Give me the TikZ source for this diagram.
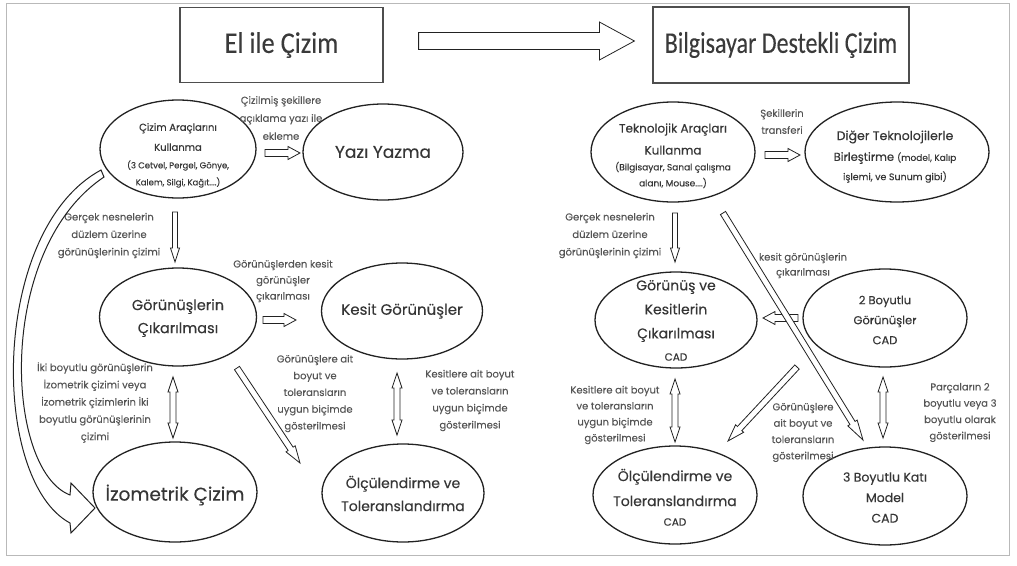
\documentclass[tikz,border=0pt]{standalone}
\usepackage{fontspec}
\usetikzlibrary{calc,shapes.geometric}
\newfontfamily\pop{Poppins}[FakeBold=0.25]
\newfontfamily\popl{Poppins}[FakeBold=0.1]
\newfontfamily\carl{Carlito}[FakeBold=0.1]
\newcommand\fsz[2]{\fontsize{#1}{#2}\selectfont}
\definecolor{lbl}{HTML}{555555}
\definecolor{ntx}{HTML}{363636}
\definecolor{ttx}{HTML}{3A3A3A}
\definecolor{ln}{HTML}{222222}
\tikzset{
  ell/.style={ellipse, draw=ln, line width=1.3pt, fill=white, inner sep=0pt},
  titlebox/.style={rectangle, draw=ln!80, line width=1.2pt, fill=white, inner sep=0pt},
  arr/.style={draw=ln, line width=0.8pt, fill=white, line join=miter},
  lab/.style={text=lbl, align=center, inner sep=0pt},
  ntext/.style={text=ntx, align=center, inner sep=0pt},
}
% single block arrow: from, to, half shaft, half head, head length
\newcommand\sarr[5]{%
  \coordinate (tmpH) at ($(#2)!#5!(#1)$);
  \draw[arr] ($(#1)!#3!90:(#2)$) -- ($(tmpH)!#3!-90:(#1)$) -- ($(tmpH)!#4!-90:(#1)$) -- (#2)
     -- ($(tmpH)!#4!90:(#1)$) -- ($(tmpH)!#3!90:(#1)$) -- ($(#1)!#3!-90:(#2)$) -- cycle;}
% double block arrow
\newcommand\darr[5]{%
  \coordinate (tHa) at ($(#1)!#5!(#2)$);
  \coordinate (tHb) at ($(#2)!#5!(#1)$);
  \draw[arr] (#1) -- ($(tHa)!#4!90:(#2)$) -- ($(tHa)!#3!90:(#2)$) -- ($(tHb)!#3!-90:(#1)$)
     -- ($(tHb)!#4!-90:(#1)$) -- (#2) -- ($(tHb)!#4!90:(#1)$) -- ($(tHb)!#3!90:(#1)$)
     -- ($(tHa)!#3!-90:(#2)$) -- ($(tHa)!#4!-90:(#2)$) -- cycle;}
\begin{document}
\begin{tikzpicture}[x=1pt,y=-1pt]
\useasboundingbox (0,0) rectangle (1017,565);
\fill[white] (0,0) rectangle (1017,565);
\draw[gray!55, line width=1pt] (6,3) rectangle (1009,555);

% title boxes
\node[titlebox, minimum width=203pt, minimum height=75pt] (box1) at (281.5,45) {};
\node[text=ttx, inner sep=0pt, font=\carl\fsz{30}{34}, xscale=0.88, transform shape] (box1t) at (box1) {El ile Çizim};
\node[titlebox, minimum width=256pt, minimum height=76pt] (box2) at (781,45) {};
\node[text=ttx, inner sep=0pt, font=\carl\fsz{30}{34}, xscale=0.8, transform shape] (box2t) at (box2) {Bilgisayar Destekli Çizim};
\coordinate (ba1) at ($(box1.east)+(35,-4)$);
\coordinate (ba2) at ($(box2.west)+(-18,-4)$);
\sarr{ba1}{ba2}{8.5pt}{19pt}{35pt}

% ---------- left ellipses
\node[ell, minimum width=156pt, minimum height=98pt] (e1) at (178,149) {};
\node[ell, minimum width=160pt, minimum height=96pt] (yz) at (383,152) {};
\node[ell, minimum width=157pt, minimum height=98pt] (gr) at (178,317) {};
\node[ell, minimum width=161pt, minimum height=96pt] (ks) at (402,311) {};
\node[ell, minimum width=164pt, minimum height=100pt] (iz) at (175,492) {};
\node[ell, minimum width=162pt, minimum height=98pt] (ol) at (403,493) {};
% ---------- right ellipses
\node[ell, minimum width=164pt, minimum height=100pt] (tk) at (673,152) {};
\node[ell, minimum width=184pt, minimum height=100pt] (dg) at (897,152) {};
\node[ell, minimum width=162pt, minimum height=96pt] (gv) at (676,320) {};
\node[ell, minimum width=164pt, minimum height=98pt] (b2) at (885,318) {};
\node[ell, minimum width=164pt, minimum height=98pt] (oc) at (675,495) {};
\node[ell, minimum width=164pt, minimum height=98pt] (b3) at (885,496) {};

% ---------- node texts
\node[ntext, font=\pop\fsz{10}{20}] (e1a) at (178,137) {Çizim Araçlarını\\Kullanma};
\node[ntext, font=\popl\fsz{8.5}{17}] (e1b) at (178,174) {(3 Cetvel, Pergel, Gönye,\\Kalem, Silgi, Kağıt....)};
\node[ntext, font=\pop\fsz{17}{20}] (yzt) at (383,152) {Yazı Yazma};
\node[ntext, font=\pop\fsz{14.5}{23}] (grt) at (178,318) {Görünüşlerin\\Çıkarılması};
\node[ntext, font=\pop\fsz{15}{18}] (kst) at (402,311) {Kesit Görünüşler};
\node[ntext, font=\pop\fsz{18.5}{22}] (izt) at (175,495) {İzometrik Çizim};
\node[ntext, font=\pop\fsz{14}{23}] (olt) at (403,493.5) {Ölçülendirme ve\\Toleranslandırma};

\node[ntext, font=\pop\fsz{12}{22}] (tka) at (673,139) {Teknolojik Araçları\\Kullanma};
\node[ntext, font=\popl\fsz{9}{16}] (tkb) at (673,175) {(Bilgisayar, Sanal çalışma\\alanı, Mouse....)};
\node[ntext, font=\pop\fsz{12.5}{14}] (dga) at (895,137) {Diğer Teknolojilerle};
\node[ntext, font=\pop\fsz{11.5}{14}] (dgb) at (895,158) {Birleştirme {\popl\fsz{9}{11}(model, Kalıp}};
\node[ntext, font=\popl\fsz{9.5}{11}] (dgc) at (895,177) {işlemi, ve Sunum gibi)};
\node[ntext, font=\pop\fsz{14}{24}] (gvt) at (676,311) {Görünüş ve\\Kesitlerin\\Çıkarılması};
\node[ntext, font=\pop\fsz{10.5}{12}] (gvc) at (676,357) {CAD};
\node[ntext, font=\pop\fsz{11.5}{20}] (b2t) at (885,320) {2 Boyutlu\\Görünüşler\\CAD};
\node[ntext, font=\pop\fsz{14}{25}] (oct) at (675,487.5) {Ölçülendirme ve\\Toleranslandırma};
\node[ntext, font=\pop\fsz{10.5}{12}] (occ) at (675,522) {CAD};
\node[ntext, font=\pop\fsz{12.5}{20.5}] (b3t) at (885,497.5) {3 Boyutlu Katı\\Model\\CAD};

% ---------- edge labels
\node[lab, font=\popl\fsz{10}{18}] (l1) at (281,118) {Çizilmiş şekillere\\açıklama yazı ile\\ekleme};
\node[lab, font=\popl\fsz{10}{17}] (l2) at (782,121.5) {Şekillerin\\transferi};
\node[lab, font=\popl\fsz{10}{17.5}] (l3) at (109,235.5) {Gerçek nesnelerin\\düzlem üzerine\\görünüşlerinin çizimi};
\node[lab, font=\popl\fsz{10}{17.5}] (l4) at (610,235.5) {Gerçek nesnelerin\\düzlem üzerine\\görünüşlerinin çizimi};
\node[lab, font=\popl\fsz{10}{16}] (l5) at (283,281) {Görünüşlerden kesit\\görünüşler\\çıkarılması};
\node[lab, font=\popl\fsz{10}{15}] (l6) at (803,265.5) {kesit görünüşlerin\\çıkarılması};
\node[lab, font=\popl\fsz{10}{17.25}] (l7) at (95,402.5) {İki boyutlu görünüşlerin\\İzometrik çizimi veya\\İzometrik çizimlerin İki\\boyutlu görünüşlerinin\\çizimi};
\node[lab, font=\popl\fsz{10}{16.75}] (l8) at (315,393.5) {Görünüşlere ait\\boyut ve\\toleransların\\uygun biçimde\\gösterilmesi};
\node[lab, font=\popl\fsz{10}{17}] (l9) at (470,400.5) {Kesitlere ait boyut\\ve toleransların\\uygun biçimde\\gösterilmesi};
\node[lab, font=\popl\fsz{10}{16}] (l10) at (615,415) {Kesitlere ait boyut\\ve toleransların\\uygun biçimde\\gösterilmesi};
\node[lab, font=\popl\fsz{10}{16.3}] (l11) at (803,432.5) {Görünüşlere\\ait boyut ve\\toleransların\\gösterilmesi};
\node[lab, font=\popl\fsz{10}{16.3}] (l12) at (960,412.5) {Parçaların 2\\boyutlu veya 3\\boyutlu olarak\\gösterilmesi};

% ---------- arrow end coordinates
\coordinate (a1s) at (265,153);  \coordinate (a1e) at (300,153);
\coordinate (a2s) at (263,320);  \coordinate (a2e) at (296,320);
\coordinate (a3s) at (765,155);  \coordinate (a3e) at (800,155);
\coordinate (a4s) at (798,318);  \coordinate (a4e) at (763,318);
\coordinate (v1s) at (175,212);  \coordinate (v1e) at (175,262);
\coordinate (v2s) at (675,213);  \coordinate (v2e) at (675,262);
\coordinate (d1s) at (173,377);  \coordinate (d1e) at (173,438);
\coordinate (d2s) at (397,373);  \coordinate (d2e) at (397,435);
\coordinate (d3s) at (675,379);  \coordinate (d3e) at (675,442);
\coordinate (d4s) at (883,377);  \coordinate (d4e) at (883,438);
\coordinate (g1s) at (237,368);  \coordinate (g1e) at (300,463);
\coordinate (g2s) at (797,367);  \coordinate (g2e) at (728,441);
\coordinate (g3s) at (723,213);  \coordinate (g3e) at (863,440);

% horizontal block arrows
\sarr{a1s}{a1e}{3.5pt}{6.5pt}{12pt}
\sarr{a2s}{a2e}{3.5pt}{6.5pt}{12pt}
\sarr{a3s}{a3e}{3.5pt}{6.5pt}{12pt}
\sarr{a4s}{a4e}{3.5pt}{6.5pt}{12pt}
% vertical pencil arrows
\sarr{v1s}{v1e}{2.5pt}{4.5pt}{14pt}
\sarr{v2s}{v2e}{2.5pt}{4.5pt}{14pt}
% double arrows
\darr{d1s}{d1e}{3pt}{5pt}{15pt}
\darr{d2s}{d2e}{3pt}{5pt}{15pt}
\darr{d3s}{d3e}{3pt}{5pt}{15pt}
\darr{d4s}{d4e}{3pt}{5pt}{15pt}
% diagonal arrows
\sarr{g1s}{g1e}{3pt}{5.5pt}{17pt}
\sarr{g2s}{g2e}{3pt}{5.5pt}{17pt}
\sarr{g3s}{g3e}{3pt}{5.5pt}{20pt}

% big curved arrow from e1 to iz
\draw[arr, line width=1pt] (101,170) .. controls (-10,230) and (-10,480) .. (70,523)
  -- (71,533) -- (95,508) -- (71,483) -- (70,495)
  .. controls (5,470) and (-5,250) .. (104,177) -- cycle;
\end{tikzpicture}
\end{document}
